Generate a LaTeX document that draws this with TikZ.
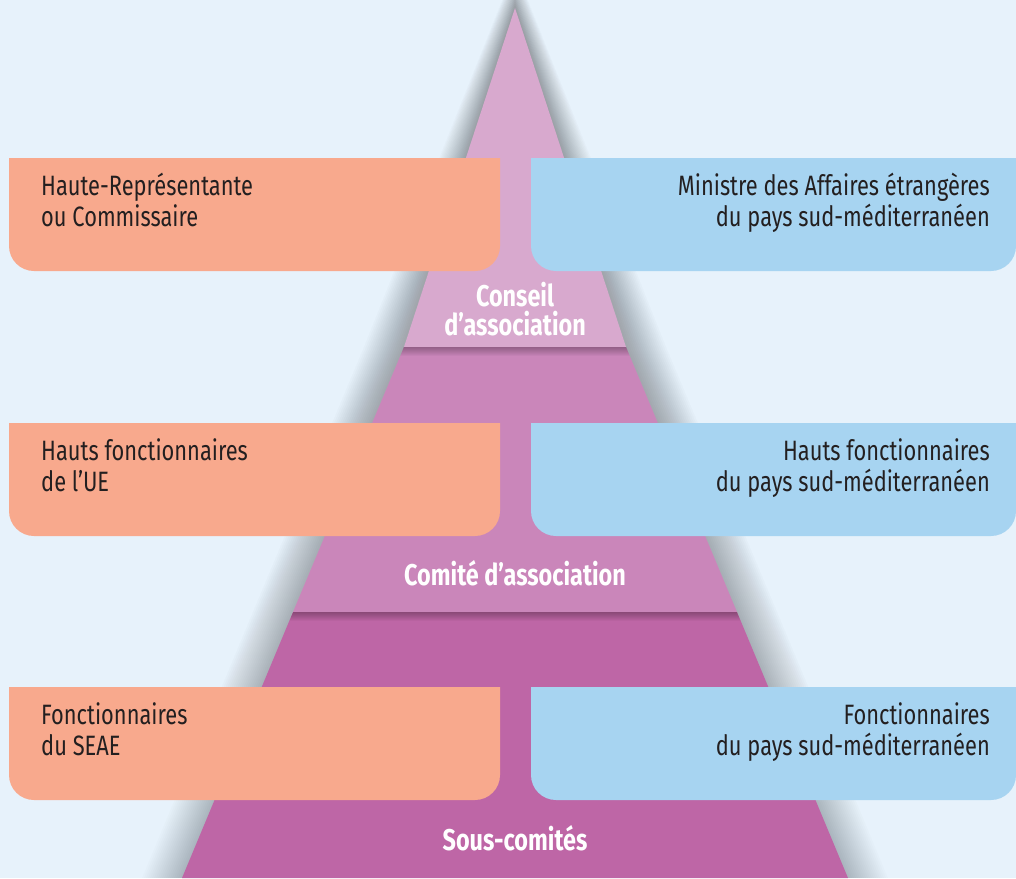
\documentclass[tikz,border=0pt]{standalone}
\usepackage{fontspec}
\setmainfont{Fira Sans}[FakeStretch=0.78]
\definecolor{bgc}{HTML}{E7F2FB}
\definecolor{salmon}{HTML}{F8A98D}
\definecolor{skyb}{HTML}{A7D4F1}
\definecolor{pinkA}{HTML}{D8A9CE}
\definecolor{pinkB}{HTML}{CA86BA}
\definecolor{pinkC}{HTML}{BE66A6}
\definecolor{shade}{HTML}{3E525E}
\definecolor{txt}{HTML}{231F20}
\tikzset{
  boxtxt/.style={inner sep=0pt, text=txt, font=\fontsize{28}{31}\selectfont},
  lefttxt/.style={boxtxt, align=left, anchor=base west},
  righttxt/.style={boxtxt, align=right, anchor=base east},
  bandtxt/.style={inner sep=0pt, text=white, align=center, anchor=base, font=\fontsize{30}{29}\selectfont\bfseries},
}
\newcommand{\lbox}[2]{% top y, bottom y (negative)
  \fill[salmon] (9,#1) -- (500,#1) -- (500,#2+25) arc[start angle=0,end angle=-90,radius=25] -- (34,#2) arc[start angle=270,end angle=180,radius=25] -- cycle;}
\newcommand{\rbox}[2]{%
  \fill[skyb] (531,#1) -- (1016,#1) -- (1016,#2+25) arc[start angle=0,end angle=-90,radius=25] -- (556,#2) arc[start angle=270,end angle=180,radius=25] -- cycle;}
\begin{document}
\begin{tikzpicture}[x=1pt,y=1pt]
\useasboundingbox (0,0) rectangle (1016,-878);
\fill[bgc] (0,0) rectangle (1016,-878);
% soft shadow around pyramid
\foreach \d in {2,4,...,40}{
  \fill[shade, opacity=0.013] (515,-8+\d) -- (404-\d,-347) -- (293-\d,-612) -- (182-\d,-878) -- (848+\d,-878) -- (737+\d,-612) -- (626+\d,-347) -- cycle;
}
% pyramid bands
\fill[pinkA] (515,-8) -- (404,-347) -- (626,-347) -- cycle;
\fill[pinkB] (404,-347) -- (293,-612) -- (737,-612) -- (626,-347) -- cycle;
\fill[pinkC] (293,-612) -- (182,-878) -- (848,-878) -- (737,-612) -- cycle;
% shading under band boundaries
\begin{scope}
  \clip (404,-347) -- (182,-878) -- (848,-878) -- (626,-347) -- cycle;
  \foreach \i in {1,...,9}{
    \fill[black, opacity=0.03] (150,-347) rectangle (870,-347-\i);
    \fill[black, opacity=0.03] (150,-612) rectangle (870,-612-\i);
  }
\end{scope}
% boxes
\lbox{-158}{-271}
\rbox{-158}{-271}
\lbox{-423}{-536}
\rbox{-423}{-536}
\lbox{-687}{-800}
\rbox{-687}{-800}
% texts (base anchor = baseline of last line)
\node[lefttxt] (hr) at (41,-226) {Haute-Représentante\\ou Commissaire};
\node[righttxt] (mae) at (990,-226) {Ministre des Affaires étrangères\\du pays sud-méditerranéen};
\node[lefttxt] (hue) at (41,-491) {Hauts fonctionnaires\\de l’UE};
\node[righttxt] (hps) at (990,-491) {Hauts fonctionnaires\\du pays sud-méditerranéen};
\node[lefttxt] (fse) at (41,-755) {Fonctionnaires\\du SEAE};
\node[righttxt] (fps) at (990,-755) {Fonctionnaires\\du pays sud-méditerranéen};
\node[bandtxt] (ca) at (515,-335) {Conseil\\d’association};
\node[bandtxt] (coa) at (515,-585) {Comité d’association};
\node[bandtxt] (sc) at (515,-850) {Sous-comités};
\end{tikzpicture}
\end{document}
